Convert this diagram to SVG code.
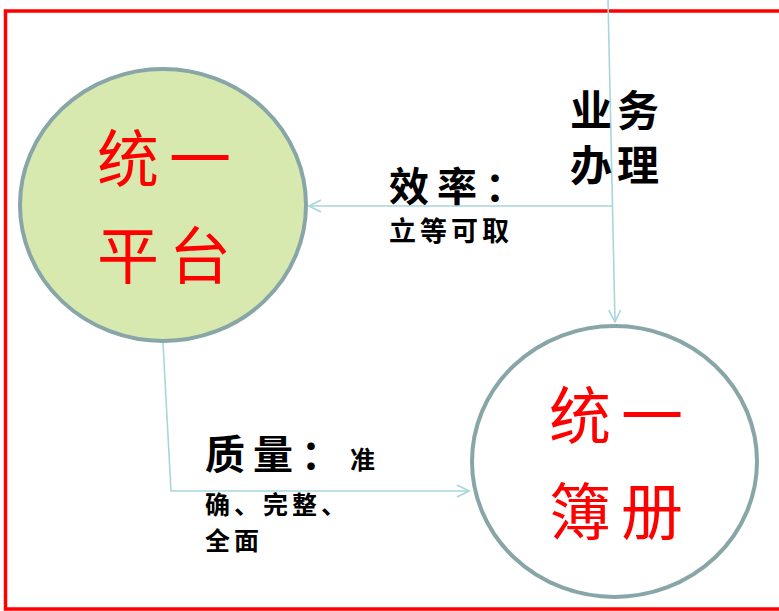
<svg xmlns="http://www.w3.org/2000/svg" width="779" height="611" viewBox="0 0 779 611">
<defs>
<style>
.conn{fill:none;stroke:#a8d6dd;stroke-width:1.6}
.big{font-family:"Noto Sans CJK SC","Noto Sans CJK JP",sans-serif;font-size:62px;fill:#ff0000;letter-spacing:10px}
.lbl{font-family:"Noto Sans CJK SC","Noto Sans CJK JP",sans-serif;fill:#000;font-weight:bold}
</style>
<marker id="ah" viewBox="0 0 14 14" refX="13" refY="7" markerWidth="14" markerHeight="14" markerUnits="userSpaceOnUse" orient="auto">
<path d="M1,1 L13,7 L1,13" fill="none" stroke="#a8d6dd" stroke-width="1.6"/>
</marker>
</defs>
<rect x="0" y="0" width="779" height="611" fill="#ffffff"/>
<rect id="frame" x="5.5" y="11" width="790" height="598" fill="none" stroke="#ff0000" stroke-width="3.5"/>
<g id="connectors">
<path class="conn" d="M608,0 L615,322" marker-end="url(#ah)"/>
<path class="conn" d="M612,206 L309,206" marker-end="url(#ah)"/>
<path class="conn" d="M163,343 L171,491 L469,491" marker-end="url(#ah)"/>
</g>
<g id="platform">
<ellipse cx="163" cy="205" rx="143" ry="136" fill="#d8e9b0" stroke="#88a5a8" stroke-width="4"/>
<text class="big" x="97" y="182">统一</text>
<text class="big" x="97" y="279">平台</text>
</g>
<g id="register">
<ellipse cx="614.5" cy="461.5" rx="142.5" ry="135.5" fill="#ffffff" stroke="#88a5a8" stroke-width="4"/>
<text class="big" x="549" y="439">统一</text>
<text class="big" x="549" y="535">簿册</text>
</g>
<g id="label-business">
<text class="lbl" x="570" y="126" font-size="42" letter-spacing="5">业务</text>
<text class="lbl" x="570" y="181" font-size="42" letter-spacing="5">办理</text>
</g>
<g id="label-efficiency">
<text class="lbl" x="389" y="201" font-size="40" letter-spacing="8">效率：</text>
<text class="lbl" x="389" y="241" font-size="27" letter-spacing="4">立等可取</text>
</g>
<g id="label-quality">
<text class="lbl" x="205" y="469" font-size="40" letter-spacing="8">质量：</text>
<text class="lbl" x="350" y="469" font-size="25">准</text>
<text class="lbl" x="205" y="514" font-size="25" letter-spacing="4">确、完整、</text>
<text class="lbl" x="205" y="550" font-size="25" letter-spacing="4">全面</text>
</g>
</svg>
